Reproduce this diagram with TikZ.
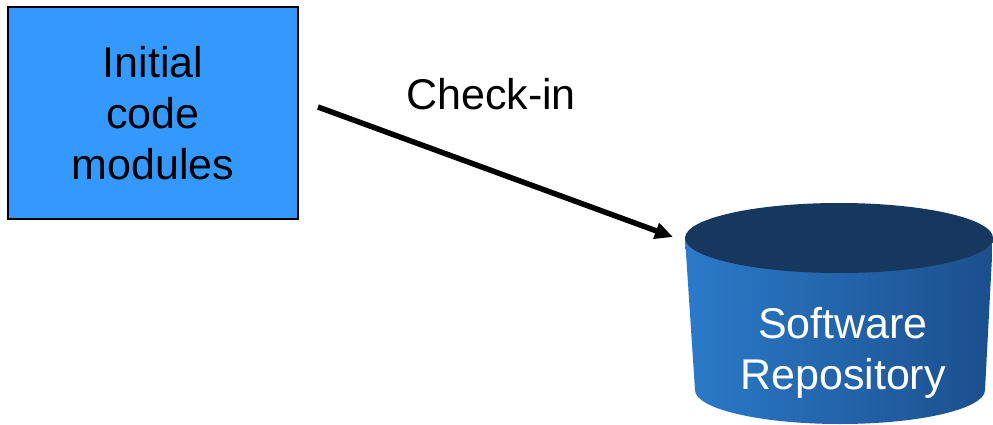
\documentclass[tikz,border=0pt]{standalone}
\usepackage{fontspec}
\setmainfont{Liberation Sans}
\usetikzlibrary{arrows.meta}
\definecolor{boxblue}{HTML}{3399FF}
\definecolor{repoleft}{HTML}{2B7AC9}
\definecolor{repomid}{HTML}{2670BE}
\definecolor{reporight}{HTML}{1B4F8C}
\definecolor{repotop}{HTML}{16375E}
\tikzset{
  bigtext/.style={font=\fontsize{43}{51}\selectfont, align=center},
  modulebox/.style={draw=black, line width=2pt, fill=boxblue, bigtext,
    minimum width=290pt, minimum height=212pt, inner sep=0pt},
  flowarrow/.style={line width=5.5pt, -{Triangle[length=18pt,width=16pt]}},
}
\begin{document}
\begin{tikzpicture}[x=1pt,y=1pt]
  \useasboundingbox (0,0) rectangle (993,424);

  % source box
  \node[modulebox] (mods) at (153,311) {Initial\\code\\modules};

  % repository cylinder: tapered body, then the dark lid
  \shade[left color=repoleft, middle color=repomid, right color=reporight]
    (685,186) -- (695,34)
    arc[start angle=180, end angle=360, x radius=145, y radius=34]
    -- (993,186) -- cycle;
  \fill[repotop] (839,186) ellipse[x radius=154, y radius=35];
  \node[bigtext, text=white] (repo) at (843,71) {Software\\Repository};

  % check-in arrow
  \coordinate (from) at (318,317);
  \coordinate (into) at (673,187);
  \draw[flowarrow] (from) -- (into);
  \node[bigtext, anchor=base] (lbl) at (491,314) {Check-in};
\end{tikzpicture}
\end{document}
